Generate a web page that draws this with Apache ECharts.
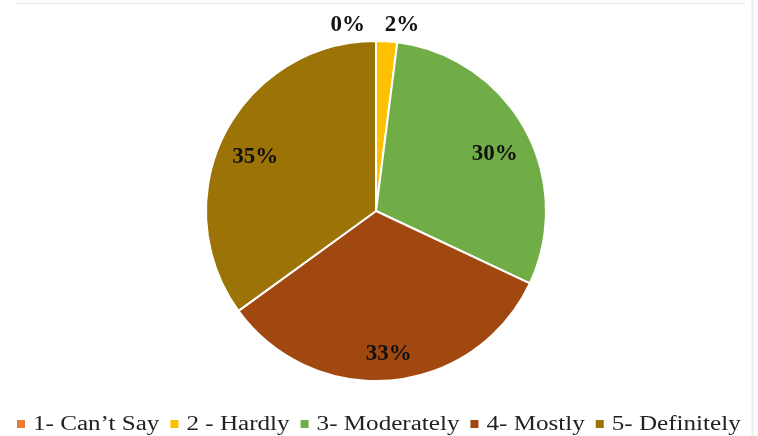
<!DOCTYPE html>
<html>
<head>
<meta charset="utf-8">
<script src="https://cdn.jsdelivr.net/npm/echarts@6/dist/echarts.min.js"></script>
<style>
  html, body { margin: 0; padding: 0; background: #fff; }
  #chart { width: 758px; height: 436px; }
</style>
</head>
<body>
<div id="chart"></div>
<script>
// Survey responses, share of respondents (%)
const categories = ['1- Can\u2019t Say', '2 - Hardly', '3- Moderately', '4- Mostly', '5- Definitely'];
const shares = [0, 2, 30, 33, 35];
const colors = ['#ED7D31', '#FFC000', '#70AD47', '#A0480F', '#9C7307'];

// Small slices get their labels above the pie, large ones inside
const outsideIdx = [0, 1];

const CX = 376, CY = 211, R = 170;
const SERIF = "'Liberation Serif', 'Times New Roman', serif";

const pieData = categories.map((name, i) => ({
  name,
  value: shares[i],
  itemStyle: { color: colors[i] },
  label: { show: outsideIdx.includes(i) }
}));

// Transparent ring sharing the pie's angles; it places the inside labels
// further out from the centre than the default half radius.
const ringData = categories.map((name, i) => ({
  name,
  value: shares[i],
  label: { show: !outsideIdx.includes(i) }
}));

const labelFont = {
  fontFamily: SERIF,
  fontWeight: 'bold',
  fontSize: 23,
  color: '#111'
};

// Legend row along the bottom, built as graphic elements so the serif
// face and the widened lettering can be controlled directly.
function buildLegend() {
  const fontSize = 20, stretch = 1.255, marker = 8, markerGap = 8, itemGap = 11;
  const left = 17, rowY = 425;
  const ctx = document.createElement('canvas').getContext('2d');
  ctx.font = fontSize + 'px ' + SERIF;
  const elements = [];
  let x = left;
  categories.forEach((name, i) => {
    elements.push({
      type: 'rect', silent: true,
      shape: { x: x, y: rowY - marker / 2 - 1, width: marker, height: marker },
      style: { fill: colors[i] }
    });
    x += marker + markerGap;
    const w = ctx.measureText(name).width * stretch;
    elements.push({
      type: 'text', silent: true,
      x: x, y: rowY, scaleX: stretch,
      style: {
        text: name, fill: '#222', font: fontSize + 'px ' + SERIF,
        align: 'left', verticalAlign: 'middle'
      }
    });
    x += w + itemGap;
  });
  return elements;
}

const chart = echarts.init(document.getElementById('chart'), null, { renderer: 'canvas' });
chart.setOption({
  animation: false,
  color: colors,
  graphic: [
    { type: 'line', silent: true, shape: { x1: 15, y1: 3.5, x2: 745, y2: 3.5 }, style: { stroke: '#e6e6e6', lineWidth: 1 } },
    { type: 'line', silent: true, shape: { x1: 752.5, y1: 0, x2: 752.5, y2: 436 }, style: { stroke: '#ececec', lineWidth: 2 } }
  ].concat(buildLegend()),
  series: [
    {
      type: 'pie',
      center: [CX, CY],
      radius: [0, R],
      startAngle: 90,
      clockwise: true,
      minShowLabelAngle: 0,
      data: pieData,
      itemStyle: { borderColor: '#fff', borderWidth: 2 },
      label: Object.assign({
        position: 'outside',
        formatter: p => p.value + '%'
      }, labelFont),
      labelLine: { show: false, length: 16, length2: 0 },
      labelLayout: function (p) {
        if (p.dataIndex === 0) return { align: 'right', dx: -6 };
        if (p.dataIndex === 1) return { dx: -8 };
        return {};
      },
      emphasis: { disabled: true }
    },
    {
      type: 'pie',
      silent: true,
      center: [CX, CY],
      radius: [R * 0.56, R],
      startAngle: 90,
      clockwise: true,
      data: ringData,
      itemStyle: { color: 'rgba(0,0,0,0)' },
      label: Object.assign({
        position: 'inside',
        formatter: p => p.value + '%'
      }, labelFont),
      labelLine: { show: false },
      labelLayout: function () { return { dy: 8 }; },
      emphasis: { disabled: true },
      legendHoverLink: false
    }
  ]
});
</script>
</body>
</html>
